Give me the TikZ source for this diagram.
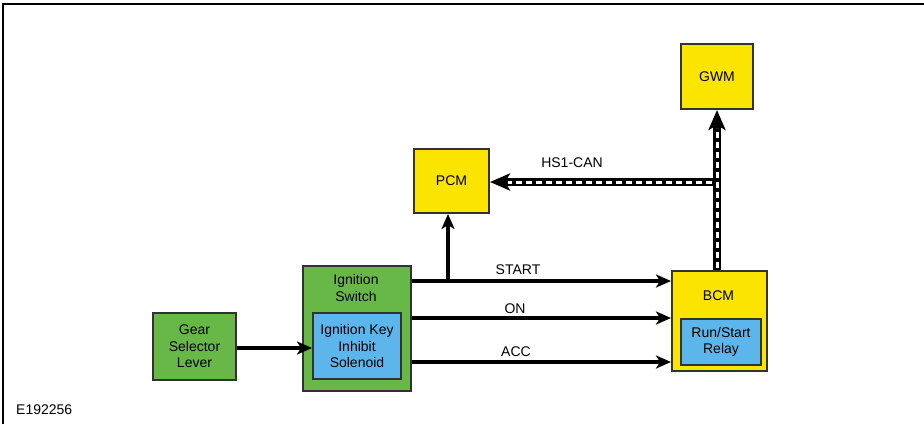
\documentclass[tikz,border=0pt]{standalone}
\usepackage{fontspec}
\setmainfont{Liberation Sans}
\usetikzlibrary{arrows.meta}
\definecolor{ygw}{RGB}{250,228,0}
\definecolor{grn}{RGB}{104,184,72}
\definecolor{blu}{RGB}{92,182,236}
\definecolor{edge}{RGB}{50,50,50}
\begin{document}
\begin{tikzpicture}[x=1pt,y=-1pt,
  box/.style={draw=edge,line width=2pt,inner sep=0pt,font=\fontsize{14}{16.5}\selectfont,align=center},
  ybox/.style={box,fill=ygw},
  gbox/.style={box,fill=grn},
  bbox/.style={box,fill=blu},
  sig/.style={line width=3.2pt,-{Stealth[length=15,width=13,inset=4]}},
  lbl/.style={font=\fontsize{14}{16.5}\selectfont,inner sep=0pt}]
\useasboundingbox (0,0) rectangle (924,424);
\draw[line width=1.5pt] (3,424) -- (3,4) -- (924,4);
% boxes
\node[gbox,minimum width=83,minimum height=67] (gear) at (194.5,346.5) {Gear\\Selector\\Lever};
\node[gbox,minimum width=108,minimum height=125,anchor=north west] (ign) at (302,265) {};
\node[lbl,align=center] (ignt) at (356,288) {Ignition\\Switch};
\node[bbox,minimum width=88,minimum height=66,anchor=north west] (sol) at (312,312) {Ignition Key\\Inhibit\\Solenoid};
\node[ybox,minimum width=75,minimum height=64,anchor=north west] (pcm) at (413,148) {PCM};
\node[ybox,minimum width=72,minimum height=65,anchor=north west] (gwm) at (680,43) {GWM};
\node[ybox,minimum width=95,minimum height=100,anchor=north west] (bcm) at (671,270) {};
\node[lbl] (bcmt) at (718.5,296) {BCM};
\node[bbox,minimum width=80,minimum height=46,anchor=north west] (relay) at (680,318) {Run/Start\\Relay};
% signal arrows
\coordinate (s0) at (ign.east |- 0,281);
\coordinate (br) at (448,281);
\draw[sig] (s0) -- (bcm.west |- s0);
\draw[sig] (br) -- (br |- pcm.south);
\draw[sig] (ign.east |- 0,318) -- (bcm.west |- 0,318);
\draw[sig] (ign.east |- 0,362) -- (bcm.west |- 0,362);
\draw[sig] (gear.east |- 0,348) -- (sol.west |- 0,348);
\node[lbl] (lstart) at (518,270) {START};
\node[lbl] (lon) at (515,309) {ON};
\node[lbl] (lacc) at (516,352) {ACC};
% CAN bus
\coordinate (j) at (717,182);
\draw[line width=7.5pt,-{Stealth[length=20,width=17,inset=5]}] (j |- bcm.north) -- (gwm.south);
\draw[line width=7.5pt,-{Stealth[length=20,width=17,inset=5]}] ([xshift=3.75]j) -- (pcm.east |- j);
\draw[white,line width=3pt,dash pattern=on 6pt off 4pt] ([yshift=2]j |- bcm.north) -- ([yshift=-18]gwm.south);
\draw[white,line width=3pt,dash pattern=on 6pt off 4pt] ([xshift=-5]j) -- ([xshift=18]pcm.east |- j);
\node[lbl] (lcan) at (572,163) {HS1-CAN};
\node[lbl,anchor=west] (code) at (16,410) {E192256};
\end{tikzpicture}
\end{document}
